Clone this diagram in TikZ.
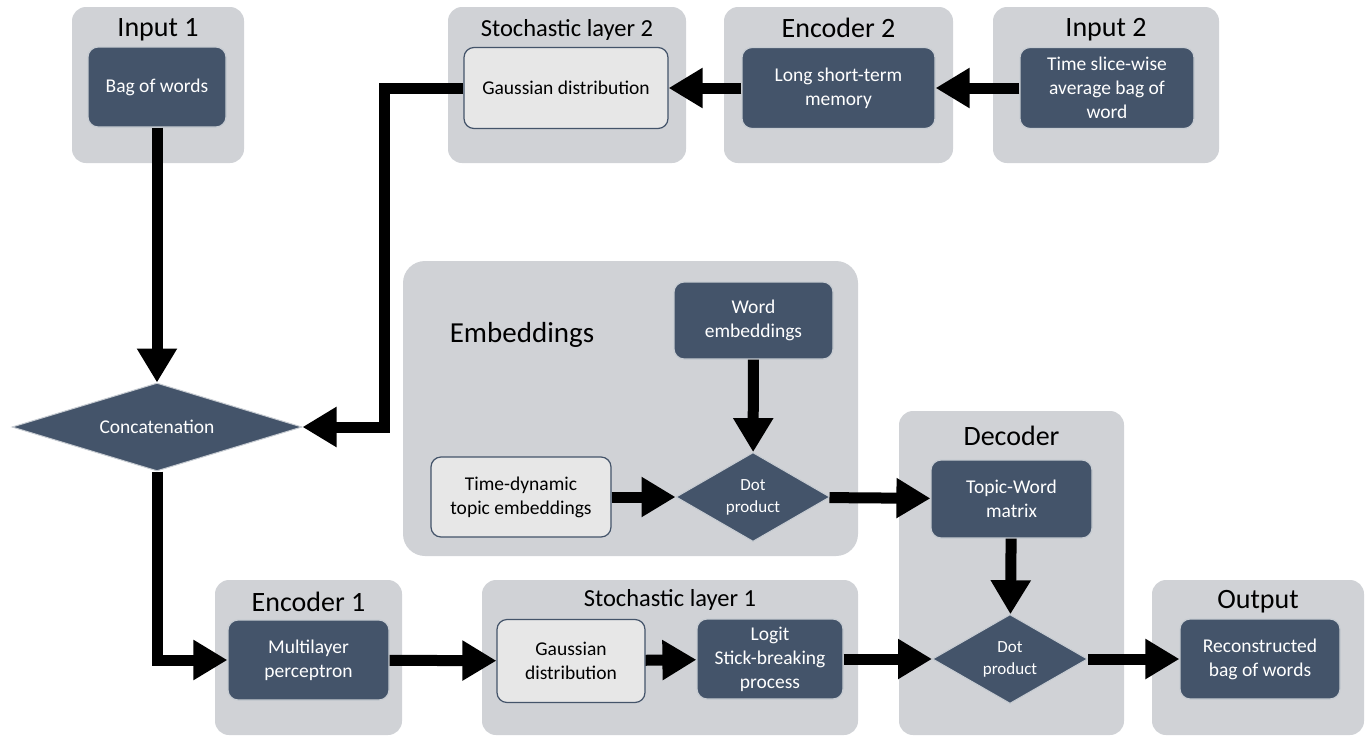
\documentclass[tikz,border=0pt]{standalone}
\usepackage{fontspec}
\setmainfont{Carlito}
\usepackage{xcolor}
\usepackage{tikz}
\usetikzlibrary{arrows.meta,positioning,shapes.geometric}
\definecolor{grpgray}{RGB}{208,210,214}
\definecolor{navy}{RGB}{68,84,106}
\definecolor{pale}{RGB}{231,231,231}
\tikzset{
  group/.style={fill=grpgray, rounded corners=14pt, inner sep=0pt},
  dark/.style={draw=white!70!navy, line width=1.2pt, fill=navy, text=white, rounded corners=10pt, align=center, inner sep=0pt, font=\fontsize{19.5}{24}\selectfont},
  light/.style={dark, draw=navy, fill=pale, text=black},
  decide/.style={diamond, aspect=1.7, draw=white!70!navy, line width=1pt, fill=navy, text=white, align=center, inner sep=0pt, font=\fontsize{17}{22}\selectfont},
  grptitle/.style={inner sep=0pt, font=\fontsize{28}{32}\selectfont},
  subtitle/.style={inner sep=0pt, font=\fontsize{24.5}{28}\selectfont},
  arrow/.style={-{Triangle[length=34pt,width=38pt]}, line width=11pt},
}

\begin{document}
\begin{tikzpicture}[x=1pt, y=-1pt]
\useasboundingbox (0,0) rectangle (1366,737);
% top row
\node[group, minimum width=172pt, minimum height=156pt] (in1g) at (158,85) {};
\node[grptitle, below=11pt of in1g.north] {Input 1};
\node[dark, minimum width=138pt, minimum height=80pt] (bow) at (157,87) {Bag of words};
\node[group, minimum width=238pt, minimum height=156pt] (sl2g) at (567,85) {};
\node[subtitle, below=12pt of sl2g.north] {Stochastic layer 2};
\node[light, minimum width=204pt, minimum height=81pt] (gs2) at (566,88) {Gaussian distribution};
\node[group, minimum width=229pt, minimum height=156pt] (enc2g) at (838.5,85) {};
\node[grptitle, below=11pt of enc2g.north] {Encoder 2};
\node[dark, minimum width=193pt, minimum height=81pt] (lstm) at (838.5,88) {Long short-term\\memory};
\node[group, minimum width=226pt, minimum height=156pt] (in2g) at (1106,85) {};
\node[grptitle, below=11pt of in2g.north] {Input 2};
\node[dark, minimum width=174pt, minimum height=81pt] (tsbow) at (1107,88) {Time slice-wise\\average bag of\\word};
% middle
\node[decide, aspect=3.3, minimum width=290pt, minimum height=88pt, font=\fontsize{19.5}{24}\selectfont] (cat) at (157,427) {Concatenation};
\node[group, rounded corners=22pt, minimum width=455pt, minimum height=295pt] (embg) at (630.5,408.5) {};
\node[inner sep=0pt, font=\fontsize{29}{33}\selectfont] at (522,335) {Embeddings};
\node[dark, minimum width=159pt, minimum height=77pt] (wemb) at (753.5,320.5) {Word\\embeddings};
\node[light, minimum width=180pt, minimum height=80pt] (temb) at (521,497) {Time-dynamic\\topic embeddings};
\node[decide, minimum width=154pt, minimum height=89pt] (dot1) at (753,497) {Dot\\product};
\node[group, minimum width=225pt, minimum height=324pt] (decg) at (1011.5,573) {};
\node[grptitle, below=15pt of decg.north] {Decoder};
\node[dark, minimum width=161pt, minimum height=78pt] (twm) at (1011.5,499) {Topic-Word\\matrix};
\node[decide, minimum width=155pt, minimum height=89pt] (dot2) at (1010,659) {Dot\\product};
% bottom row
\node[group, minimum width=187pt, minimum height=155pt] (enc1g) at (308.5,657.5) {};
\node[grptitle, below=12pt of enc1g.north] {Encoder 1};
\node[dark, minimum width=161pt, minimum height=80pt] (mlp) at (308.5,660) {Multilayer\\perceptron};
\node[group, minimum width=376pt, minimum height=155pt] (sl1g) at (670,657.5) {};
\node[subtitle, below=9pt of sl1g.north] {Stochastic layer 1};
\node[light, minimum width=148pt, minimum height=83pt] (gs1) at (571,661) {Gaussian\\distribution};
\node[dark, minimum width=146pt, minimum height=80pt] (lsb) at (770,659) {Logit\\Stick-breaking\\process};
\node[group, minimum width=212pt, minimum height=155pt] (outg) at (1258,657.5) {};
\node[grptitle, below=10pt of outg.north] {Output};
\node[dark, minimum width=160pt, minimum height=80pt] (rbow) at (1260,659) {Reconstructed\\bag of words};
% arrows
\draw[arrow] (bow.south) -- (cat.north);
\draw[arrow] (tsbow) -- (lstm);
\draw[arrow] (lstm) -- (gs2);
\draw[arrow] (gs2.west) -- ++(-79pt,0) |- (cat.east);
\draw[arrow] (cat.south) |- (mlp.west);
\draw[arrow] (mlp) -- (gs1);
\draw[arrow] (gs1) -- (lsb);
\draw[arrow] (lsb) -- (dot2);
\draw[arrow] (dot2) -- (rbow);
\draw[arrow] (wemb) -- (dot1);
\draw[arrow] (temb) -- (dot1);
\draw[arrow] (dot1) -- (twm);
\draw[arrow] (twm) -- (dot2);
\end{tikzpicture}
\end{document}
